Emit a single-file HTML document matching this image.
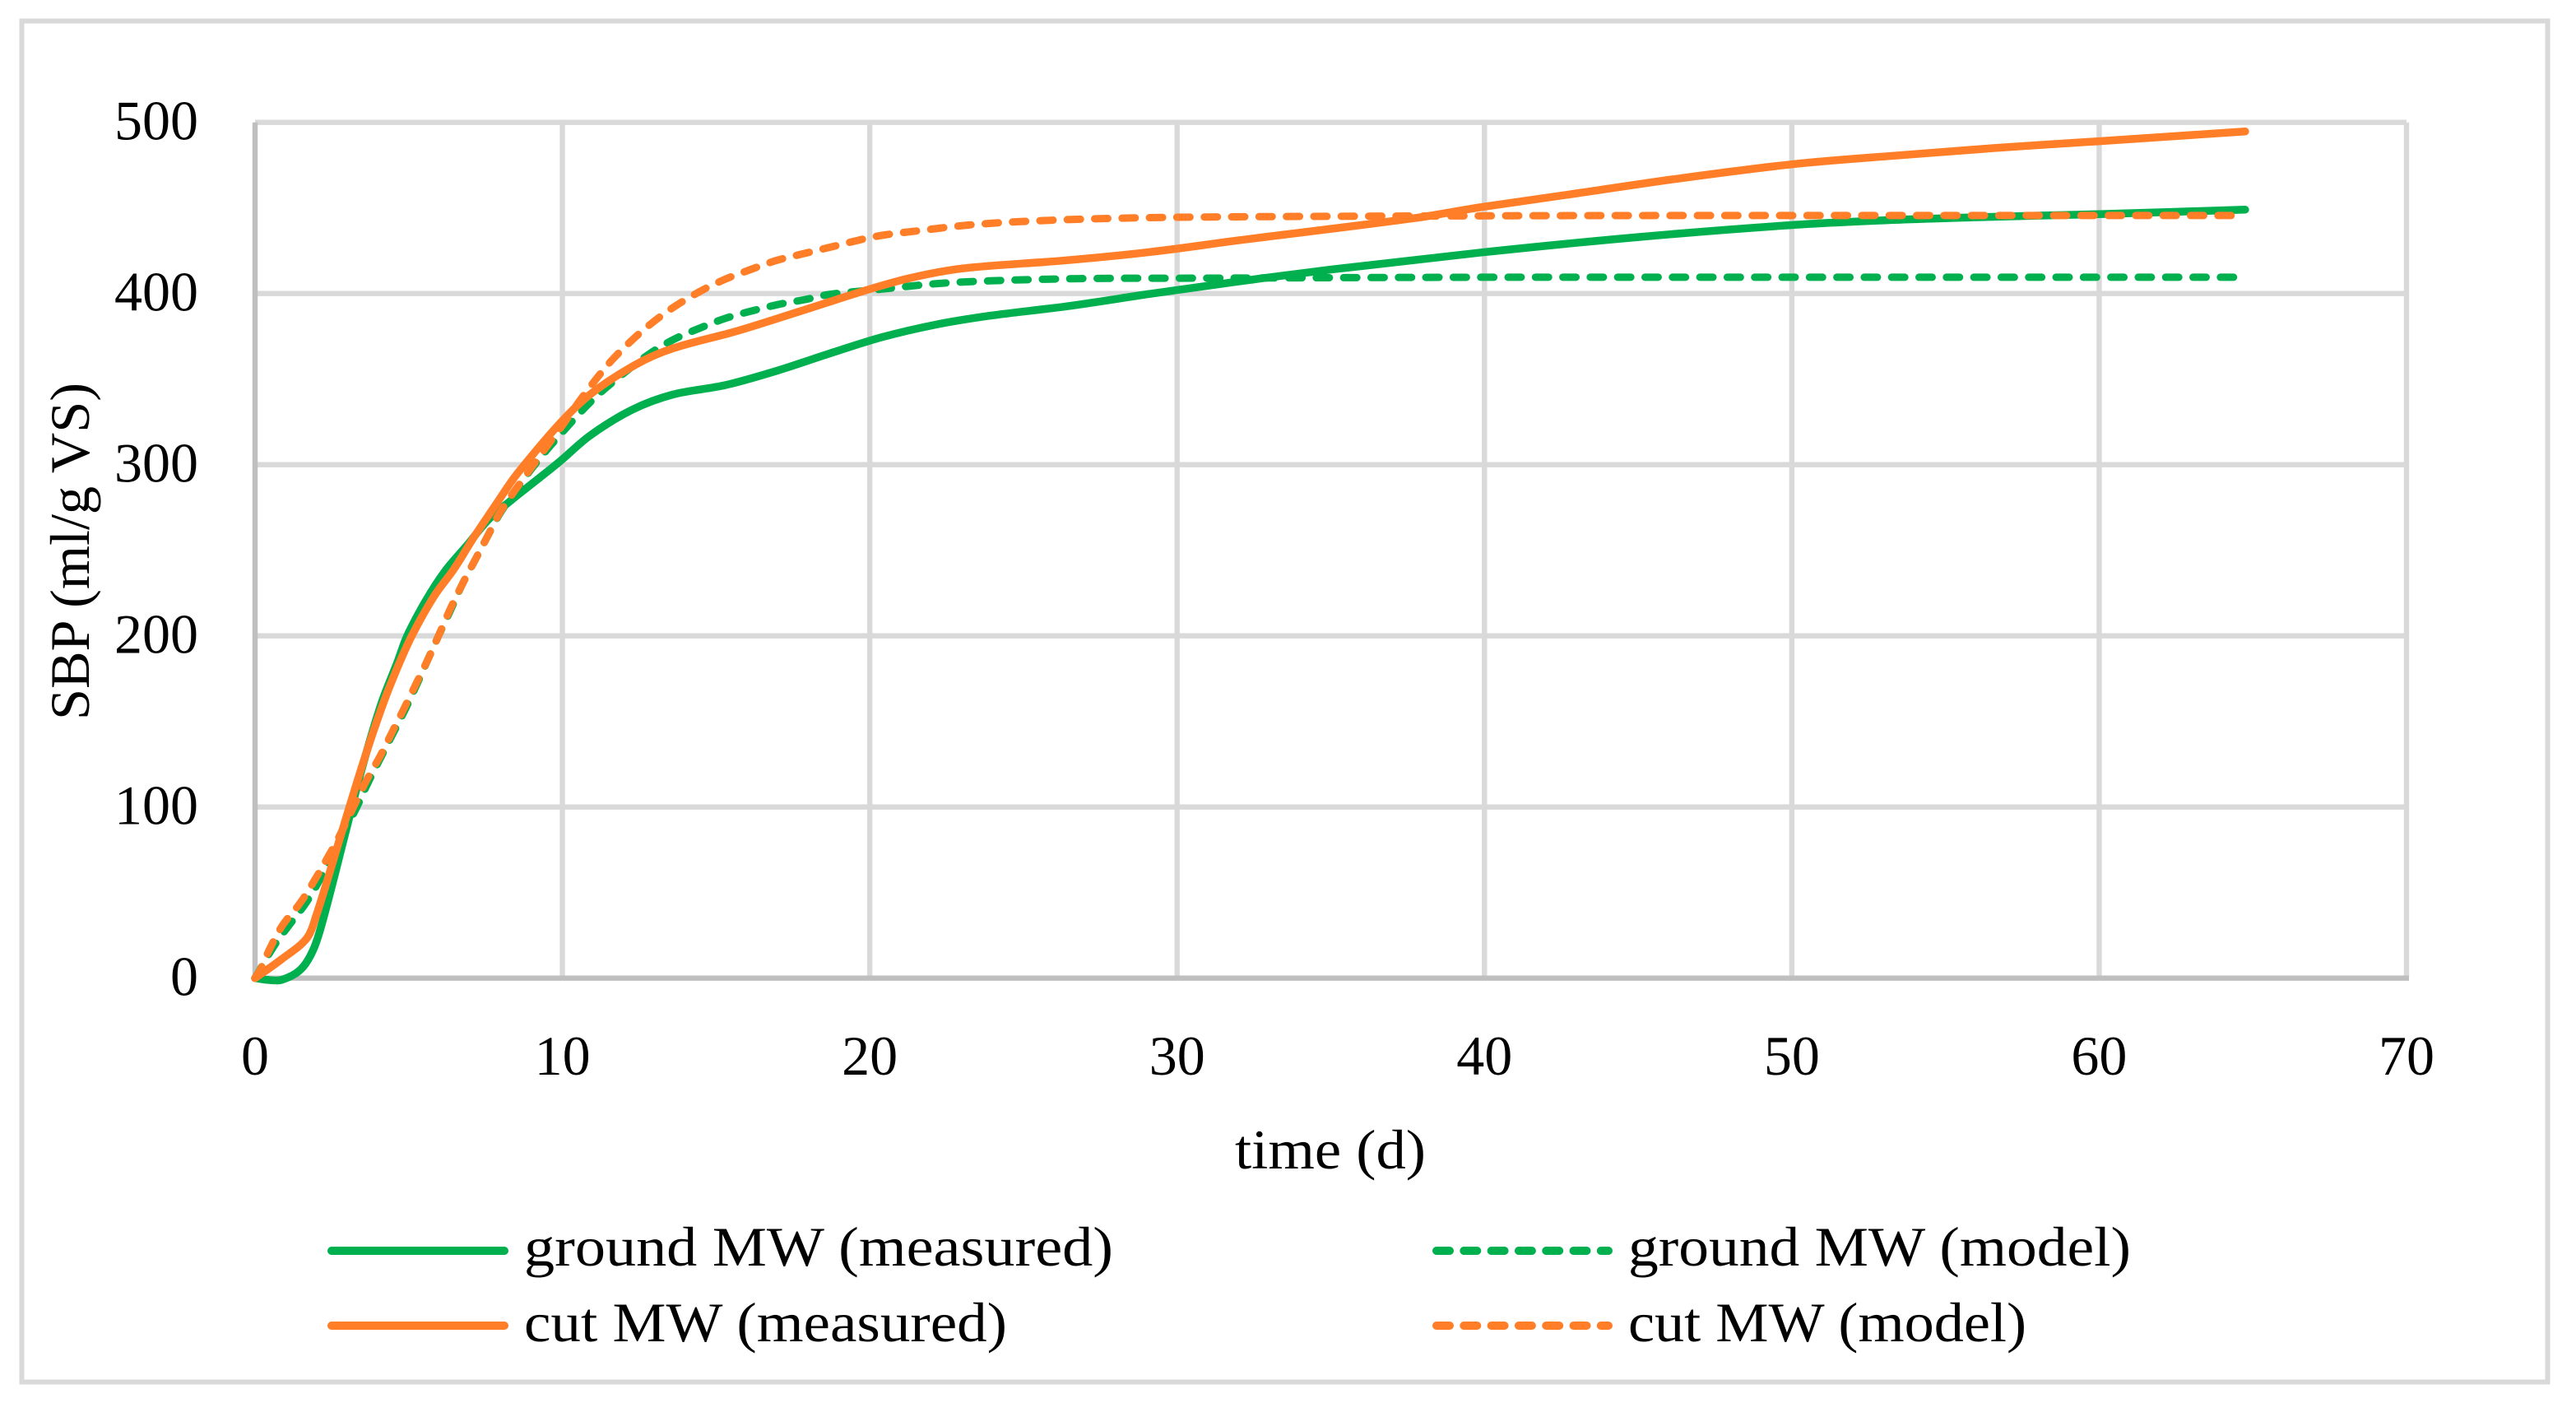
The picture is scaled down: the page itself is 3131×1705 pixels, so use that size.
<!DOCTYPE html>
<html lang="en">
<head>
<meta charset="utf-8">
<title>SBP over time</title>
<style>
html,body{margin:0;padding:0;background:#fff;}
svg{display:block;}
text{font-family:"Liberation Serif",serif;font-size:68px;fill:#000;}
</style>
</head>
<body>
<svg id="chart" xmlns="http://www.w3.org/2000/svg" width="3131" height="1705" viewBox="0 0 3131 1705">
  <rect x="26.5" y="25.5" width="3070" height="1654" fill="#fff" stroke="#d9d9d9" stroke-width="6"/>
  <g id="grid"></g>
  <g id="axes"></g>
  <g id="series"></g>
  <g id="labels"></g>
  <text x="1501" y="1420" textLength="232" lengthAdjust="spacingAndGlyphs">time (d)</text>
  <text transform="translate(108 875) rotate(-90)" x="0" y="0" textLength="410" lengthAdjust="spacingAndGlyphs">SBP (ml/g VS)</text>
  <g>
    <line x1="403" y1="1520" x2="613" y2="1520" stroke="#00b04f" stroke-width="10" stroke-linecap="round"/>
    <text x="637" y="1538" textLength="716" lengthAdjust="spacingAndGlyphs">ground MW (measured)</text>
    <line x1="403" y1="1611" x2="613" y2="1611" stroke="#ff7e27" stroke-width="10" stroke-linecap="round"/>
    <text x="637" y="1630" textLength="587" lengthAdjust="spacingAndGlyphs">cut MW (measured)</text>
    <line x1="1746" y1="1520" x2="1955" y2="1520" stroke="#00b04f" stroke-width="10" stroke-linecap="round" stroke-dasharray="16 17.3"/>
    <text x="1979" y="1538" textLength="611" lengthAdjust="spacingAndGlyphs">ground MW (model)</text>
    <line x1="1746" y1="1611" x2="1955" y2="1611" stroke="#ff7e27" stroke-width="10" stroke-linecap="round" stroke-dasharray="16 17.3"/>
    <text x="1979" y="1630" textLength="484" lengthAdjust="spacingAndGlyphs">cut MW (model)</text>
  </g>
</svg>
<script>
const xTicks = [0, 10, 20, 30, 40, 50, 60, 70];
const yTicks = [0, 100, 200, 300, 400, 500];

const groundMeasuredDays = [0,0.4,0.86,1.48,1.88,2.18,2.9,3.5,4.12,4.64,4.95,5.57,6.19,6.9,7.6,8.32,9.86,10.9,12.26,13.6,15.3,17,18.7,20.4,22.2,23.9,26.4,29.2,31.85,35,39.9,45,50,53.3,55.9,60,64.75];
const groundMeasuredSbp = [0,-1,-1,5,16,32,82,124,161,185,200,221,238,253,268,279,301,317,332,341,346.5,355,365,374.5,382,387,392.5,400,406.7,414,424,433,440,443,444.5,446.4,449];

const cutMeasuredDays = [0,0.86,1.67,1.98,2.8,3.5,4.12,4.6,5.1,5.82,6.47,7.1,7.92,8.5,9.86,10.9,12.4,13.6,15.66,17.9,19.9,21.3,23,26.4,29.2,31.85,37.7,39.9,43,46.25,50,53.3,56.6,60,64.75];
const cutMeasuredSbp = [0,11,23,36,84,125,158,180,200,223,239,257,279,294,323,341,358.6,368,378,390.6,402,409,414.6,419.4,424.4,430.7,444,450.5,458.5,467,475.5,480.5,485,489,494.7];

const groundModelDays = [0,0.59,1.11,1.62,2.03,2.44,3.31,3.67,4.12,4.49,4.9,5.26,5.62,5.97,6.36,6.74,7.15,7.56,8.02,9.1,10.2,11.05,11.9,12.77,13.6,14.5,15.3,16.2,17,17.9,18.7,20.4,22.2,23.9,26.8,31,40,50,64.5];
const groundModelSbp = [0,18,31,43,55,69,100,114,130,143,157.6,171.5,186,200,215,230,244,258,273,300,323,339,352,364,373,380,385.5,390,393.5,396.5,399.5,402.6,405.8,407.4,408.7,409,409.5,409.5,409.5];

const cutModelDays = [0,0.2,0.5,0.9,1.47,1.93,2.38,2.8,3.61,4.08,4.44,4.85,5.24,5.62,5.97,6.36,6.74,7.15,7.56,8,9.18,10.04,10.55,11.14,11.66,12.34,13,13.7,14.56,15.33,16.2,17,17.9,18.7,19.6,20.4,21.5,23.2,24.9,27.6,31,40,50,64.4];
const cutModelSbp = [0,6,18,31,44,57,71,85,115,130,143,157.6,172,186,200,216,230,244,258,273,303,324,337,351,362,374,384,393,402,408.6,414.5,419.5,423.5,427,431,434,436.5,440,442,443.8,444.7,445.4,445.6,445.6];

const SVG_NS = 'http://www.w3.org/2000/svg';
const plotLeft = 310, plotRight = 2925, plotTop = 148.7, plotBottom = 1188.7;
const xMax = 70, yMax = 500;
function xScale(t) { return plotLeft + (plotRight - plotLeft) * t / xMax; }
function yScale(v) { return plotBottom - (plotBottom - plotTop) * v / yMax; }

function smoothPath(days, values) {
  const p = days.map((d, i) => [xScale(d), yScale(values[i])]);
  const dist = (a, b) => Math.hypot(a[0] - b[0], a[1] - b[1]);
  const tangent = i => {
    const a = p[Math.max(i - 1, 0)], b = p[Math.min(i + 1, p.length - 1)];
    const l = dist(a, b) || 1;
    return [(b[0] - a[0]) / l, (b[1] - a[1]) / l];
  };
  let d = 'M' + p[0][0].toFixed(1) + ' ' + p[0][1].toFixed(1);
  for (let i = 0; i < p.length - 1; i++) {
    const s = dist(p[i], p[i + 1]) / 3;
    const t0 = tangent(i), t1 = tangent(i + 1);
    d += 'C' + (p[i][0] + t0[0] * s).toFixed(1) + ' ' + (p[i][1] + t0[1] * s).toFixed(1) + ' ' +
         (p[i + 1][0] - t1[0] * s).toFixed(1) + ' ' + (p[i + 1][1] - t1[1] * s).toFixed(1) + ' ' +
         p[i + 1][0].toFixed(1) + ' ' + p[i + 1][1].toFixed(1);
  }
  return d;
}

function makeLine(x1, y1, x2, y2, color) {
  const l = document.createElementNS(SVG_NS, 'line');
  l.setAttribute('x1', x1);
  l.setAttribute('y1', y1);
  l.setAttribute('x2', x2);
  l.setAttribute('y2', y2);
  l.setAttribute('stroke', color);
  l.setAttribute('stroke-width', '6.4');
  return l;
}

const gridGroup = document.getElementById('grid');
const axesGroup = document.getElementById('axes');
const labelGroup = document.getElementById('labels');
const seriesGroup = document.getElementById('series');

xTicks.forEach(t => {
  if (t > 0) {
    const g = makeLine(xScale(t), plotTop, xScale(t), plotBottom, '#d9d9d9');
    
    
    gridGroup.appendChild(g);
  }
  const label = document.createElementNS(SVG_NS, 'text');
  label.setAttribute('x', xScale(t));
  label.setAttribute('y', plotBottom + 117.5);
  label.setAttribute('text-anchor', 'middle');
  
  
  label.textContent = t;
  labelGroup.appendChild(label);
});

yTicks.forEach(v => {
  if (v > 0) {
    const g = makeLine(plotLeft, yScale(v), plotRight, yScale(v), '#d9d9d9');
    
    
    gridGroup.appendChild(g);
  }
  const label = document.createElementNS(SVG_NS, 'text');
  label.setAttribute('x', 241);
  label.setAttribute('y', yScale(v) + 21);
  label.setAttribute('text-anchor', 'end');
  
  
  label.textContent = v;
  labelGroup.appendChild(label);
});

const yAxisLine = makeLine(plotLeft, plotTop, plotLeft, plotBottom + 3, '#bfbfbf');


axesGroup.appendChild(yAxisLine);

const xAxisLine = makeLine(plotLeft, plotBottom, plotRight + 3, plotBottom, '#bfbfbf');


axesGroup.appendChild(xAxisLine);

function drawSeries(days, values, color, dashed, name) {
  const path = document.createElementNS(SVG_NS, 'path');
  path.setAttribute('d', smoothPath(days, values));
  path.setAttribute('fill', 'none');
  path.setAttribute('stroke', color);
  path.setAttribute('stroke-width', dashed ? '9' : '9.5');
  path.setAttribute('stroke-linecap', 'round');
  path.setAttribute('stroke-linejoin', 'round');
  if (dashed) path.setAttribute('stroke-dasharray', '16 17.3');
  
  
  seriesGroup.appendChild(path);
}

drawSeries(groundMeasuredDays, groundMeasuredSbp, '#00b04f', false, 'ground-mw-measured-line');
drawSeries(groundModelDays, groundModelSbp, '#00b04f', true, 'ground-mw-model-line');
drawSeries(cutMeasuredDays, cutMeasuredSbp, '#ff7e27', false, 'cut-mw-measured-line');
drawSeries(cutModelDays, cutModelSbp, '#ff7e27', true, 'cut-mw-model-line');
</script>
</body>
</html>
